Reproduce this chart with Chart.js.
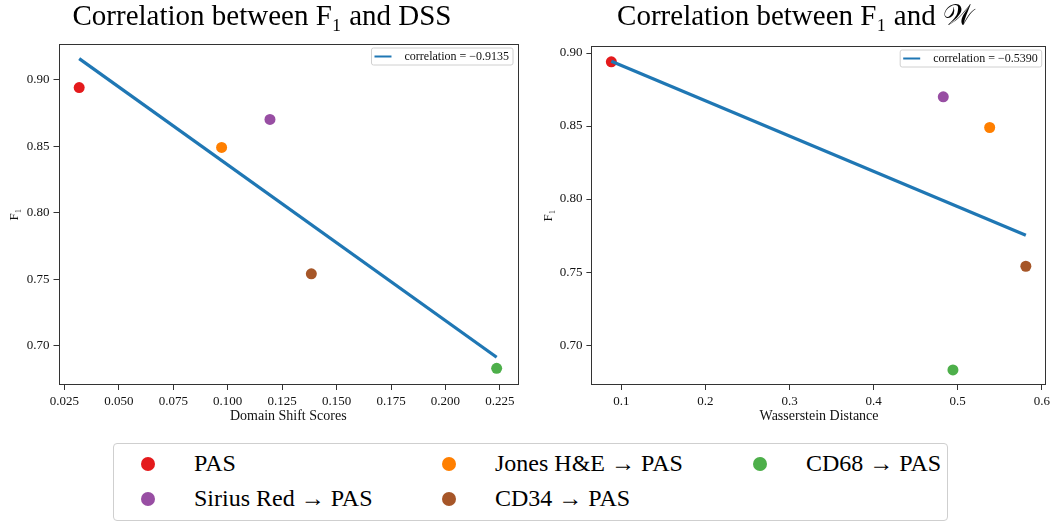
<!DOCTYPE html>
<html lang="en">
<head>
    <meta charset="UTF-8">
    <title>Correlation between F1 and DSS / W</title>
    <script src="https://cdn.jsdelivr.net/npm/chart.js"></script>
    <style>
        body {
            margin: 0;
            background: #fff;
            font-family: "Liberation Serif", "DejaVu Serif", serif;
        }
        #page { position: relative; width: 1054px; height: 523px; }
        .chartBox { position: absolute; top: 0; height: 428px; }
        #leftBox { left: 6px; width: 521px; }
        #rightBox { left: 541px; width: 513px; }
        #legend {
            position: absolute;
            left: 113px; top: 443px;
            width: 835px; height: 78px;
            box-sizing: border-box;
            border: 1px solid #cfcfcf;
            border-radius: 4px;
            padding: 2px 0 0 27px;
            display: grid;
            grid-template-rows: 35px 35px;
            grid-template-columns: 301px 311px 1fr;
            grid-auto-flow: column;
            font-size: 24px;
            color: #000;
        }
        .item { display: flex; align-items: center; white-space: nowrap; }
        .dot { width: 14px; height: 14px; border-radius: 50%; margin-right: 39px; flex: none; }
    </style>
</head>
<body>
<div id="page">
    <div class="chartBox" id="leftBox"><canvas id="dssChart"></canvas></div>
    <div class="chartBox" id="rightBox"><canvas id="wdChart"></canvas></div>
    <div id="legend"></div>
</div>

<script>
    // data
    const categories = ['PAS', 'Sirius Red → PAS', 'Jones H&E → PAS', 'CD34 → PAS', 'CD68 → PAS'];
    const f1Scores = [0.894, 0.870, 0.849, 0.754, 0.683];
    const domainShiftScores = [0.0318, 0.1194, 0.0972, 0.1384, 0.2235];
    const wassersteinDistances = [0.0880, 0.4828, 0.5380, 0.5810, 0.4943];

    // end points of the fitted lines
    const dssFitX = [0.0318, 0.2235];
    const dssFitY = [0.9157, 0.6913];
    const wdFitX = [0.0880, 0.5810];
    const wdFitY = [0.8943, 0.7752];

    const dssCorrelation = '−0.9135';
    const wdCorrelation = '−0.5390';

    const dssTicks = [0.025, 0.050, 0.075, 0.100, 0.125, 0.150, 0.175, 0.200, 0.225];
    const wdTicks = [0.1, 0.2, 0.3, 0.4, 0.5, 0.6];
    const f1Ticks = [0.70, 0.75, 0.80, 0.85, 0.90];

    const categoryColors = ['#e41a1c', '#984ea3', '#ff7f00', '#a65628', '#4daf4a'];
    const fitColor = '#1f77b4';
    const serif = '"Liberation Serif", "DejaVu Serif", "DejaVu Sans", serif';

    // frame round the plot area + the small correlation key in the corner
    const frameAndKey = {
        id: 'frameAndKey',
        afterDatasetsDraw(chart, args, opts) {
            const ctx = chart.ctx;
            const a = chart.chartArea;
            ctx.save();
            ctx.strokeStyle = '#333';
            ctx.lineWidth = 1;
            ctx.strokeRect(Math.round(a.left) + 0.5, Math.round(a.top) + 0.5,
                Math.round(a.width) - 1, Math.round(a.height) - 1);

            ctx.font = '12px ' + serif;
            const tw = ctx.measureText(opts.text).width;
            const h = 17, w = 3 + 17 + 13 + tw + 4;
            const x = a.right - 5 - w, y = a.top + 4;
            ctx.beginPath();
            if (ctx.roundRect) ctx.roundRect(x, y, w, h, 2); else ctx.rect(x, y, w, h);
            ctx.fillStyle = 'rgba(255,255,255,0.8)';
            ctx.fill();
            ctx.strokeStyle = '#d0d0d0';
            ctx.stroke();
            ctx.beginPath();
            ctx.moveTo(x + 3, y + h / 2);
            ctx.lineTo(x + 20, y + h / 2);
            ctx.strokeStyle = fitColor;
            ctx.lineWidth = 2;
            ctx.stroke();
            ctx.fillStyle = '#111';
            ctx.textBaseline = 'middle';
            ctx.fillText(opts.text, x + 33, y + h / 2 + 0.5);
            ctx.restore();
        }
    };

    function makeChart(id, cfg) {
        const ctx = document.getElementById(id).getContext('2d');
        return new Chart(ctx, {
            type: 'scatter',
            data: {
                datasets: [
                    {
                        label: 'correlation = ' + cfg.corr,
                        data: cfg.fitX.map((x, i) => ({ x: x, y: cfg.fitY[i] })),
                        showLine: true,
                        borderColor: fitColor,
                        borderWidth: 3.2,
                        pointRadius: 0,
                        order: 0
                    },
                    {
                        label: 'F1',
                        data: cfg.xs.map((x, i) => ({ x: x, y: f1Scores[i] })),
                        backgroundColor: categoryColors,
                        borderWidth: 0,
                        pointRadius: 5.5,
                        order: 1
                    }
                ]
            },
            options: {
                responsive: true,
                maintainAspectRatio: false,
                animation: false,
                layout: { padding: { left: 0, right: cfg.padRight, top: 0, bottom: 0 } },
                scales: {
                    x: {
                        min: cfg.xMin,
                        max: cfg.xMax,
                        afterBuildTicks: (s) => { s.ticks = cfg.xTicks.map(v => ({ value: v })); },
                        afterFit: (s) => { s.height = 43; },
                        grid: { drawOnChartArea: false, tickLength: 5, color: '#333' },
                        border: { display: false },
                        ticks: {
                            padding: 4,
                            color: '#111',
                            font: { family: serif, size: 13 },
                            maxRotation: 0,
                            autoSkip: false,
                            callback: (v) => v.toFixed(cfg.xDigits)
                        },
                        title: {
                            display: true,
                            text: cfg.xTitle,
                            color: '#111',
                            padding: 3,
                            font: { family: serif, size: 14 }
                        }
                    },
                    y: {
                        min: cfg.yMin,
                        max: cfg.yMax,
                        afterBuildTicks: (s) => { s.ticks = f1Ticks.map(v => ({ value: v })); },
                        afterFit: (s) => { s.width = cfg.yWidth; },
                        grid: { drawOnChartArea: false, tickLength: 5, color: '#333' },
                        border: { display: false },
                        ticks: {
                            padding: 4,
                            color: '#111',
                            font: { family: serif, size: 13 },
                            autoSkip: false,
                            callback: (v) => v.toFixed(2)
                        },
                        title: {
                            display: true,
                            text: 'F₁',
                            color: '#111',
                            padding: cfg.yTitlePad,
                            font: { family: serif, size: 13 }
                        }
                    }
                },
                plugins: {
                    legend: { display: false },
                    tooltip: { enabled: false },
                    title: {
                        display: true,
                        text: cfg.title,
                        color: '#000',
                        padding: { top: 0, bottom: cfg.titleGap },
                        font: { family: serif, size: 29, weight: 'normal' }
                    },
                    frameAndKey: { text: 'correlation = ' + cfg.corr }
                }
            },
            plugins: [frameAndKey]
        });
    }

    makeChart('dssChart', {
        title: 'Correlation between F₁ and DSS',
        xs: domainShiftScores, fitX: dssFitX, fitY: dssFitY, corr: dssCorrelation,
        xTicks: dssTicks, xDigits: 3, xTitle: 'Domain Shift Scores',
        xMin: 0.0223, xMax: 0.2333, yMin: 0.6705, yMax: 0.9267,
        yWidth: 52.5, yTitlePad: 1, padRight: 9, titleGap: 9.2
    });

    makeChart('wdChart', {
        title: 'Correlation between F₁ and 𝒲',
        xs: wassersteinDistances, fitX: wdFitX, fitY: wdFitY, corr: wdCorrelation,
        xTicks: wdTicks, xDigits: 1, xTitle: 'Wasserstein Distance',
        xMin: 0.0643, xMax: 0.6058, yMin: 0.6727, yMax: 0.9048,
        yWidth: 50.4, yTitlePad: 0, padRight: 5, titleGap: 11.2
    });

    // shared legend under both plots (column-major like the original)
    const legendEl = document.getElementById('legend');
    categories.forEach((name, i) => {
        const item = document.createElement('div');
        item.className = 'item';
        const dot = document.createElement('span');
        dot.className = 'dot';
        dot.style.background = categoryColors[i];
        item.appendChild(dot);
        item.appendChild(document.createTextNode(name));
        legendEl.appendChild(item);
    });
</script>
</body>
</html>
